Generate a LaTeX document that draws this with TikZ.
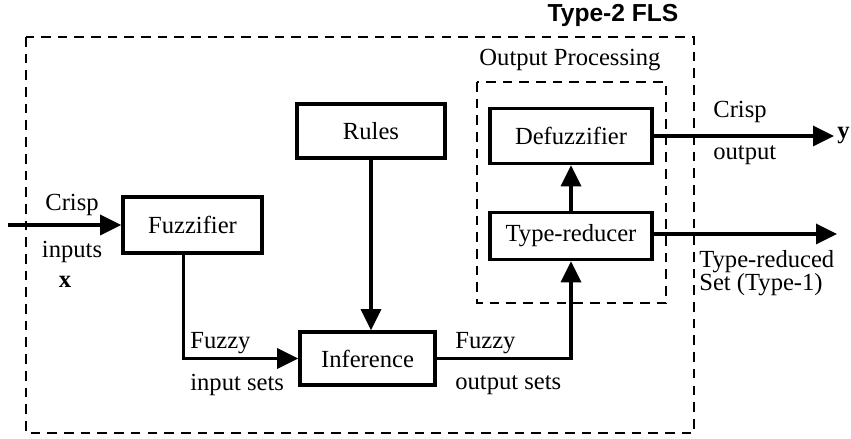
\documentclass[tikz,border=0pt]{standalone}
\usepackage{fontspec}
\setmainfont{Liberation Serif}
\newfontfamily\headfont{Liberation Sans}
\usetikzlibrary{arrows.meta}

\begin{document}
\begin{tikzpicture}[font=\fontsize{14}{17}\selectfont,
			block/.style = {draw, line width=2pt, rectangle, minimum width=2.9cm, minimum height=1.05cm},
			flow/.style = {line width=2pt, -{Triangle[length=0.42cm,width=0.40cm]}},
			frame/.style = {line width=1.3pt, dash pattern=on 5.5pt off 4pt},
			lbl/.style = {inner sep=0pt, anchor=west}]
			
			\useasboundingbox (0,0) rectangle (17.02,-8.78);
			
			% frames
			\draw[frame] (0.52,-0.74) rectangle (13.88,-8.66);
			\draw[frame] (9.54,-1.64) rectangle (13.32,-6.06);
			\node (fls) at (12.26,-0.30) {\headfont\bfseries Type-2 FLS};
			\node (outp) at (11.40,-1.20) {Output Processing};
			
			% blocks
			\node[block, minimum width=2.78cm, minimum height=1.12cm] (fuzz) at (3.85,-4.50) {Fuzzifier};
			\node[block, minimum width=2.96cm, minimum height=1.08cm] (rules) at (7.42,-2.62) {Rules};
			\node[block, minimum width=2.70cm, minimum height=1.06cm] (infer) at (7.35,-7.17) {Inference};
			\node[block, minimum width=3.24cm, minimum height=1.10cm] (defuzz) at (11.42,-2.72) {Defuzzifier};
			\node[block, minimum width=3.24cm, minimum height=0.94cm] (tred) at (11.42,-4.72) {Type-reducer};
			
			\coordinate (xin) at (0.16,-4.50);
			\coordinate (yend) at (16.68,-2.72);
			\coordinate (tend) at (16.74,-4.68);
			
			% connectors
			\draw[flow] (xin) to (fuzz);
			\draw[flow] ([xshift=-0.18cm]fuzz.south) |- (infer);
			\draw[flow] (rules) to (rules |- infer.north);
			\draw[flow] (infer) -| (tred);
			\draw[flow] (tred) to (defuzz);
			\draw[flow] (defuzz) to (yend);
			\draw[flow] (tred.east |- tend) to (tend);
			
			% labels
			\node (crin) at (1.44,-4.10) {Crisp};
			\node (inps) at (1.44,-5.04) {inputs};
			\node (xvar) at (1.30,-5.64) {$\mathbf{x}$};
			\node[lbl] (fzin) at (3.80,-6.86) {Fuzzy};
			\node[lbl] (insets) at (3.80,-7.70) {input sets};
			\node[lbl] (fzout) at (9.10,-6.86) {Fuzzy};
			\node[lbl] (outsets) at (9.10,-7.70) {output sets};
			\node[lbl] (crout) at (14.26,-2.24) {Crisp};
			\node[lbl] (outl) at (14.26,-3.10) {output};
			\node[lbl] (yvar) at (16.74,-2.72) {$\mathbf{y}$};
			\node[lbl] (trset) at (13.98,-5.24) {Type-reduced};
			\node[lbl] (trtype) at (13.98,-5.70) {Set (Type-1)};
			
		\end{tikzpicture}
\end{document}
